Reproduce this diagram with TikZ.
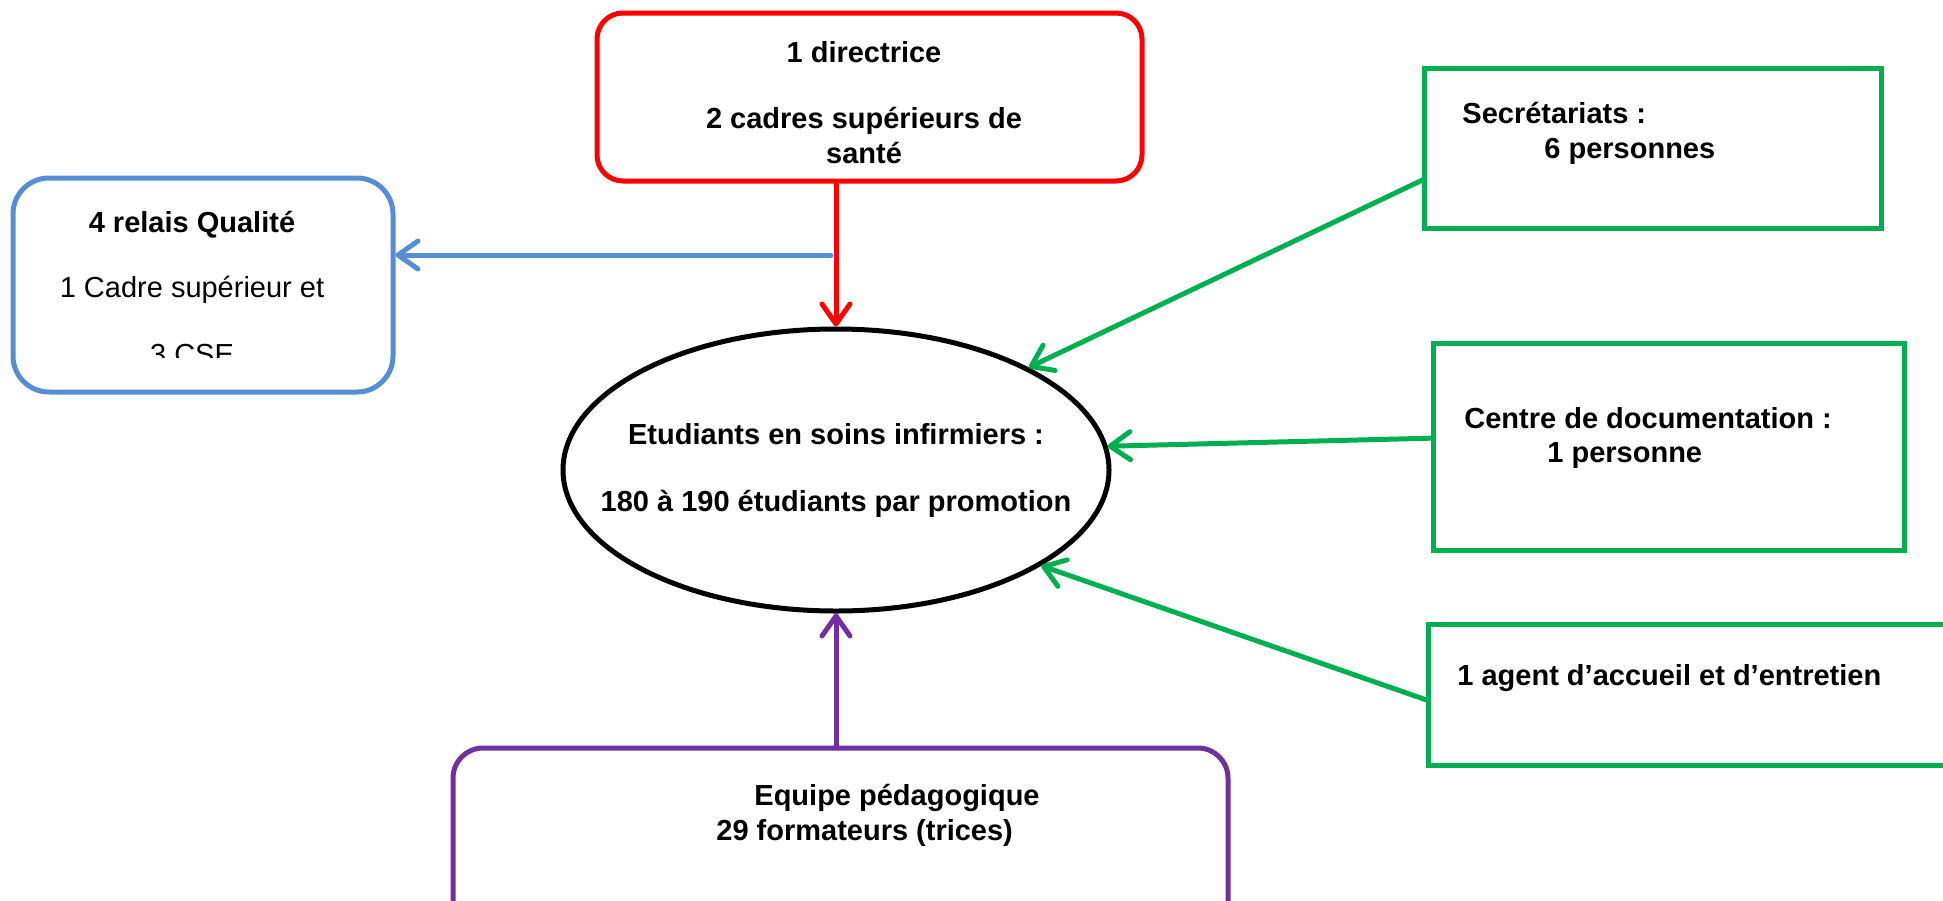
\documentclass[tikz,border=0pt]{standalone}
\usepackage{fontspec}
\setmainfont{Liberation Sans}
\usetikzlibrary{arrows.meta,shapes.geometric}

\definecolor{qualblue}{HTML}{558ED5}
\definecolor{staffgreen}{HTML}{00B050}
\definecolor{teampurple}{HTML}{7030A0}

\begin{document}
\begin{tikzpicture}[x=0.5pt, y=-0.5pt,
    box/.style={draw, line width=2.5pt, inner sep=0pt},
    txt/.style={anchor=base, inner sep=0pt, font=\fontsize{14.5}{16.7}\selectfont\bfseries},
    link/.style={line width=2.5pt, line cap=round, -{Straight Barb[length=10pt, width=14pt, round]}}]
    \useasboundingbox (0,0) rectangle (1943,900);

    % direction
    \node[box, draw=red, rounded corners=13pt, minimum width=272.5pt, minimum height=84pt] (dir) at (869.5,97) {};
    \node[txt] (dir1) at (864,62) {1 directrice};
    \node[txt] (dir2) at (864,128) {2 cadres supérieurs de};
    \node[txt] (dir3) at (864,163) {santé};

    % relais qualite
    \node[box, draw=qualblue, rounded corners=18pt, minimum width=190pt, minimum height=107pt] (qual) at (203,285) {};
    \node[txt] (qual1) at (192,232) {4 relais Qualité};
    \node[txt, font=\fontsize{14.5}{16.7}\selectfont] (qual2) at (192,297) {1 Cadre supérieur et};
    \begin{scope}
        \clip (13,178) rectangle (393,357);
        \node[txt, font=\fontsize{14.5}{16.7}\selectfont] (qual3) at (192,364) {3 CSE};
    \end{scope}

    % etudiants
    \node[box, ellipse, draw=black, minimum width=273pt, minimum height=141pt] (etu) at (836,470) {};
    \node[txt] (etu1) at (836,444) {Etudiants en soins infirmiers :};
    \node[txt] (etu2) at (836,511) {180 à 190 étudiants par promotion};

    % personnels
    \tikzset{box/.append style={draw=staffgreen}}
    \node[box, minimum width=228.5pt, minimum height=80pt] (sec) at (1652.5,148) {};
    \node[txt, anchor=base west] (sec1) at (1462,123) {Secrétariats :};
    \node[txt, anchor=base west] (sec2) at (1544,158) {6 personnes};

    \node[box, minimum width=235.5pt, minimum height=103.5pt] (doc) at (1668.5,446.5) {};
    \node[txt, anchor=base west] (doc1) at (1464,428) {Centre de documentation :};
    \node[txt, anchor=base west] (doc2) at (1547,462) {1 personne};

    \node[box, minimum width=291pt, minimum height=70.5pt] (agent) at (1719,694.5) {};
    \node[txt, anchor=base west] (agent1) at (1457,685) {1 agent d’accueil et d’entretien};

    % equipe pedagogique
    \node[box, draw=teampurple, rounded corners=15pt, minimum width=387.5pt, minimum height=106pt] (equipe) at (840.5,854) {};
    \node[txt, anchor=base west] (equipe1) at (754,805) {Equipe pédagogique};
    \node[txt, anchor=base west] (equipe2) at (716,840) {29 formateurs (trices)};

    \coordinate (branch) at (831,255);

    \draw[link, red] (etu.north |- dir.south) -- (etu.north);
    \draw[link, qualblue] (branch) -- (branch -| qual.east);
    \draw[link, staffgreen] (sec.188) -- (etu.28);
    \draw[link, staffgreen] (doc.178) -- (etu.5);
    \draw[link, staffgreen] (agent.181) -- (etu.-25);
    \draw[link, teampurple] (etu.south |- equipe.north) -- (etu.south);
\end{tikzpicture}
\end{document}
